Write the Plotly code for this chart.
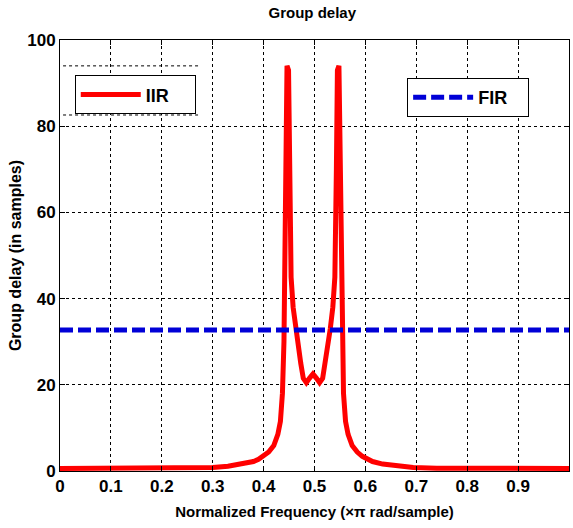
import plotly.graph_objects as go

# ---- data ----
freq = [0.0, 0.1, 0.2, 0.26, 0.30, 0.33, 0.36, 0.38, 0.39, 0.40, 0.41, 0.42,
        0.428, 0.433, 0.437, 0.440, 0.442, 0.444, 0.446, 0.449, 0.451, 0.454,
        0.458, 0.463, 0.468, 0.473, 0.478, 0.484, 0.490, 0.497, 0.504, 0.510,
        0.516, 0.521, 0.526, 0.531, 0.536, 0.540, 0.543, 0.545, 0.548, 0.550,
        0.552, 0.554, 0.557, 0.561, 0.566, 0.574, 0.584, 0.594, 0.604, 0.614,
        0.634, 0.664, 0.694, 0.74, 0.8, 0.9, 1.0]
iir_delay = [0.6, 0.6, 0.6, 0.65, 0.8, 1.1, 1.6, 2.2, 2.7, 3.4, 4.4, 5.9,
             8.5, 11.5, 18, 30, 50, 75, 94, 93, 70, 45,
             38, 33, 29, 25, 21.5, 20.5, 21.5, 22.5, 21.5, 20.5,
             21.5, 25, 29, 33, 38, 45, 70, 93, 94, 75,
             50, 30, 18, 11.5, 8.5, 5.9, 4.4, 3.4, 2.7, 2.2,
             1.6, 1.1, 0.8, 0.65, 0.6, 0.6, 0.6]
fir_freq = [0.0, 1.0]
fir_delay = [32.7, 32.7]

x_ticks = [0, 0.1, 0.2, 0.3, 0.4, 0.5, 0.6, 0.7, 0.8, 0.9]
x_labels = ["0", "0.1", "0.2", "0.3", "0.4", "0.5", "0.6", "0.7", "0.8", "0.9"]
y_ticks = [0, 20, 40, 60, 80, 100]

FONT = "Liberation Sans, Arial, sans-serif"

fig = go.Figure()
fig.add_trace(go.Scatter(x=freq, y=iir_delay, mode="lines", name="<b>IIR</b>" + "&nbsp;" * 4,
                         line=dict(color="rgb(255,0,0)", width=5),
                         legend="legend", showlegend=True))
fig.add_trace(go.Scatter(x=fir_freq, y=fir_delay, mode="lines", name="<b>FIR</b>" + "&nbsp;" * 3,
                         line=dict(color="rgb(0,0,215)", width=5, dash="13px,5px"),
                         legend="legend2", showlegend=True))

# stray dotted lines next to the IIR legend box
for yv in [94, 82.6]:
    fig.add_shape(type="line", xref="x", yref="y", x0=0.006, x1=0.275, y0=yv, y1=yv,
                  line=dict(color="black", width=1, dash="3px,3px"), layer="below")

legend_common = dict(bgcolor="white", bordercolor="black", borderwidth=1,
                     font=dict(family=FONT, size=18, color="black"),
                     xanchor="left", yanchor="top", itemwidth=60, tracegroupgap=0)

fig.update_layout(
    width=573, height=528,
    margin=dict(l=60, r=4, t=40, b=57),
    showlegend=True,
    paper_bgcolor="white", plot_bgcolor="white",
    title=dict(text="<b>Group delay</b>", x=0.545, xanchor="center", y=0.985, yanchor="top",
               font=dict(family=FONT, size=15, color="black")),
    legend=dict(x=0.029, y=0.918, **legend_common),
    legend2=dict(x=0.682, y=0.912, **legend_common),
    xaxis=dict(range=[0, 1], tickvals=x_ticks, ticktext=["<b>%s</b>" % t for t in x_labels],
               showline=True, linecolor="black", linewidth=1, mirror="ticks",
               ticks="inside", ticklen=5, tickcolor="black",
               showgrid=True, gridcolor="black", gridwidth=1, griddash="3px,3px",
               zeroline=False, automargin=False,
               tickfont=dict(family=FONT, size=17, color="black"),
               title=dict(text="<b>Normalized Frequency (×π rad/sample)</b>", standoff=11,
                          font=dict(family=FONT, size=15, color="black"))),
    yaxis=dict(range=[0, 100], tickvals=y_ticks, ticktext=["<b>%d</b>" % v for v in y_ticks],
               showline=True, linecolor="black", linewidth=1, mirror="ticks",
               ticks="inside", ticklen=5, tickcolor="black",
               showgrid=True, gridcolor="black", gridwidth=1, griddash="3px,3px",
               zeroline=False, automargin=False,
               tickfont=dict(family=FONT, size=17, color="black"),
               title=dict(text="<b>Group delay (in samples)</b>", standoff=1,
                          font=dict(family=FONT, size=16, color="black"))),
)

fig.write_html("out.html", config={"displayModeBar": False},
               post_script="document.body.style.margin='0';document.body.style.padding='0';")
